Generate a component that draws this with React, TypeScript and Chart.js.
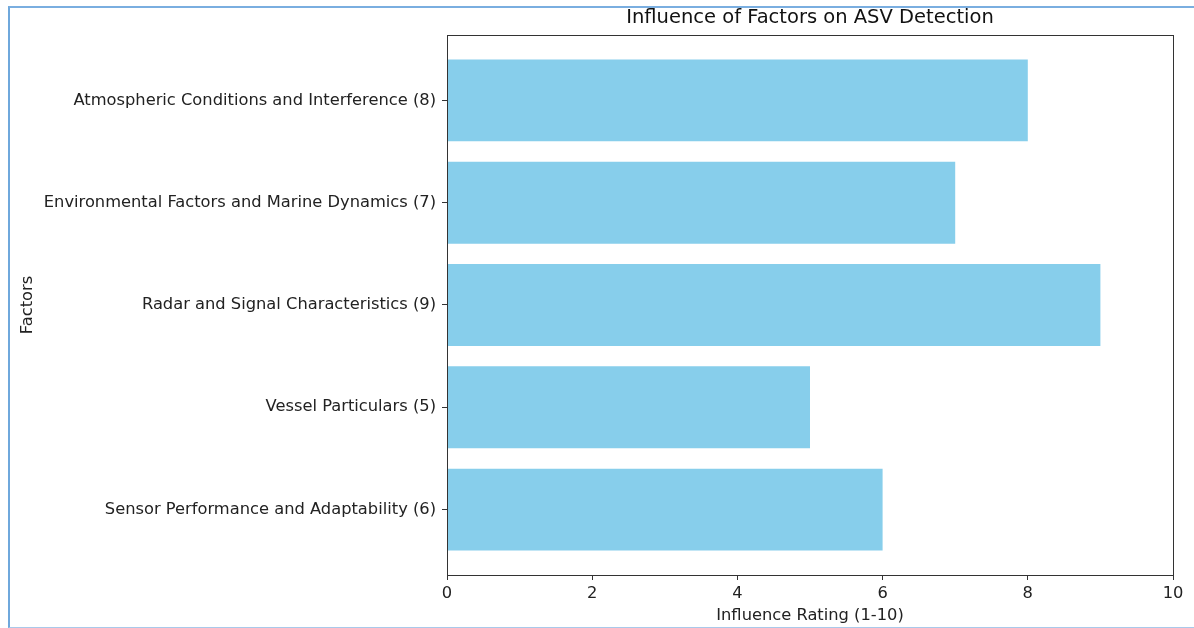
import React, { useEffect, useRef } from "react";
import { Chart, registerables } from "chart.js";

Chart.register(...registerables);

const categories = [
  "Sensor Performance and Adaptability (6)",
  "Vessel Particulars (5)",
  "Radar and Signal Characteristics (9)",
  "Environmental Factors and Marine Dynamics (7)",
  "Atmospheric Conditions and Interference (8)",
];
const ratings = [6, 5, 9, 7, 8];
const xTicks = [0, 2, 4, 6, 8, 10];
const chartTitle = "Influence of Factors on ASV Detection";
const xTitle = "Influence Rating (1-10)";
const yTitle = "Factors";

const FONT = "'DejaVu Sans', sans-serif";
const TICK_SIZE = 16.3;

export default function App() {
  const ref = useRef<HTMLCanvasElement | null>(null);

  useEffect(() => {
    if (!ref.current) return;
    const framePlugin = {
      id: "frame",
      afterDatasetsDraw(chart: any) {
        const { ctx, chartArea } = chart;
        ctx.save();
        ctx.strokeStyle = "#333";
        ctx.lineWidth = 1;
        ctx.strokeRect(
          Math.round(chartArea.left) + 0.5,
          Math.round(chartArea.top) + 0.5,
          Math.round(chartArea.right - chartArea.left),
          Math.round(chartArea.bottom - chartArea.top)
        );
        ctx.restore();
      },
      afterDraw(chart: any) {
        const { ctx, chartArea } = chart;
        ctx.save();
        ctx.fillStyle = "#111";
        ctx.font = `19.5px ${FONT}`;
        ctx.textAlign = "center";
        ctx.textBaseline = "middle";
        ctx.fillText(chartTitle, (chartArea.left + chartArea.right) / 2, 18);
        ctx.restore();
      },
    };

    const chart = new Chart(ref.current, {
      type: "bar",
      data: {
        datasets: [
          {
            data: ratings.map((v, i) => ({ x: v, y: i })),
            backgroundColor: "#87CEEB",
            borderWidth: 0,
            barPercentage: 0.8,
            categoryPercentage: 1,
          },
        ],
      },
      options: {
        indexAxis: "y",
        animation: false,
        responsive: false,
        layout: { padding: { top: 35, right: 21, bottom: 0, left: 0 } },
        plugins: { legend: { display: false }, tooltip: { enabled: false }, title: { display: false } },
        scales: {
          x: {
            type: "linear",
            min: 0,
            max: 10,
            offset: false,
            afterBuildTicks: (scale: any) => {
              scale.ticks = xTicks.map((v) => ({ value: v }));
            },
            afterFit: (scale: any) => {
              scale.height = 53;
            },
            grid: { drawOnChartArea: false, drawTicks: true, tickLength: 5, color: "#333", offset: false },
            border: { display: true, color: "#333" },
            ticks: { color: "#222", font: { family: FONT, size: TICK_SIZE }, padding: 4, maxRotation: 0 },
            title: {
              display: true,
              text: xTitle,
              color: "#222",
              font: { family: FONT, size: TICK_SIZE },
              padding: { top: 0, bottom: 2 },
            },
          },
          y: {
            type: "linear",
            min: -0.64,
            max: 4.64,
            offset: false,
            afterBuildTicks: (scale: any) => {
              scale.ticks = categories.map((_, i) => ({ value: i }));
            },
            afterFit: (scale: any) => {
              scale.width = 447;
            },
            grid: { drawOnChartArea: false, drawTicks: true, tickLength: 5, color: "#333", offset: false },
            border: { display: true, color: "#333" },
            ticks: {
              color: "#222",
              font: { family: FONT, size: TICK_SIZE },
              padding: 6,
              callback: (v: any) => categories[Math.round(Number(v))] ?? "",
            },
            title: {
              display: true,
              text: yTitle,
              color: "#222",
              font: { family: FONT, size: TICK_SIZE },
              padding: { top: 18, bottom: 0 },
            },
          },
        },
      },
      plugins: [framePlugin],
    });
    return () => chart.destroy();
  }, []);

  return (
    <div style={{ position: "fixed", left: 0, top: 0, width: 1194, height: 628, overflow: "hidden", background: "#fff" }}>
      <canvas ref={ref} width={1194} height={628} style={{ position: "absolute", left: 0, top: 0 }} />
      <div
        style={{
          position: "absolute",
          left: 8,
          top: 6,
          width: 1200,
          height: 622,
          boxSizing: "border-box",
          borderLeft: "2px solid #6fa8dc",
          borderTop: "2px solid #7aaee0",
          borderBottom: "1px solid #a9c9ea",
          pointerEvents: "none",
        }}
      />
    </div>
  );
}
